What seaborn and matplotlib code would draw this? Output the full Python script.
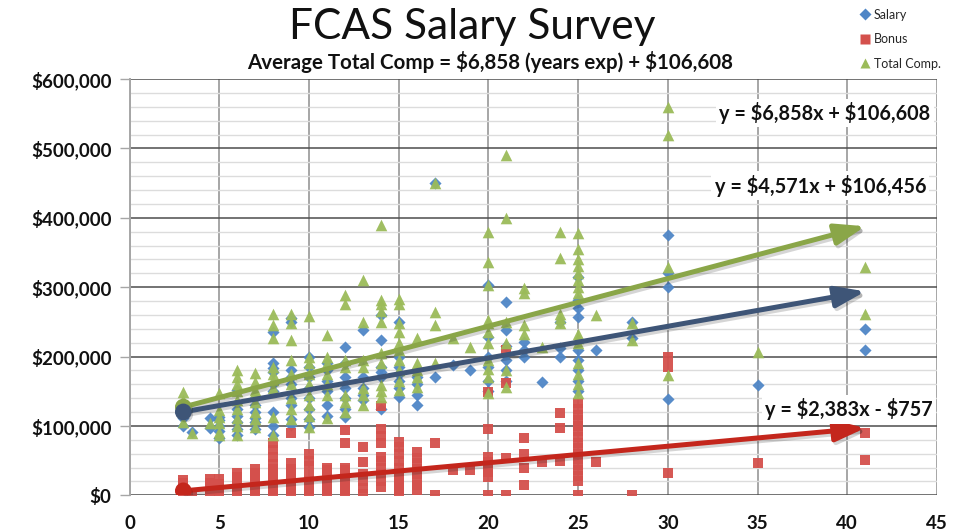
import numpy as np
import pandas as pd
import matplotlib
matplotlib.use("Agg")
import matplotlib.pyplot as plt
import matplotlib.patheffects as pe
from matplotlib.ticker import MultipleLocator, FuncFormatter
from matplotlib.lines import Line2D
import seaborn as sns

# ---------------- data (values in $ thousands) ----------------
salary_years = [3, 3.5, 4.5, 5, 6, 7, 8, 9, 10, 11, 12, 13, 14, 15, 16, 17, 18, 19,
                20, 21, 22, 23, 24, 25, 26, 28, 30, 35, 41]
salary_vals = [
    [100, 112, 120], [91], [111, 97], [83, 92, 100, 108, 113],
    [87, 95, 105, 115, 125, 152], [95, 105, 112, 120, 130, 140],
    [87, 100, 120, 150, 160, 178, 184, 190, 236],
    [101, 110, 130, 140, 160, 170, 180, 250, 256],
    [98, 110, 125, 140, 155, 170, 185, 200],
    [115, 130, 150, 165, 180, 190],
    [113, 125, 140, 155, 170, 190, 214],
    [137, 145, 155, 170, 238],
    [125, 170, 178, 185, 224, 260],
    [142, 155, 165, 175, 185, 200, 250],
    [130, 145, 160, 170], [170, 450], [188], [181],
    [150, 165, 185, 200, 228, 303],
    [165, 180, 195, 215, 238, 279],
    [200, 210, 221], [163], [200, 212, 250],
    [150, 165, 181, 195, 209, 257, 270, 281, 315],
    [209], [250, 227], [139, 300, 320, 375], [159], [209, 240],
]

bonus_years = [3, 3.5, 4.5, 5, 6, 7, 8, 9, 10, 11, 12, 13, 14, 15, 16, 17, 18, 19,
               20, 21, 22, 23, 24, 25, 26, 28, 30, 35, 41]
bonus_vals = [
    [3, 8, 13, 18, 22], [2], [3, 8, 13, 18, 23], [2, 7, 12, 17, 23],
    [2, 8, 14, 20, 26, 32], [2, 8, 14, 20, 26, 32, 38],
    [2, 8, 14, 20, 26, 32, 38, 45, 55, 65, 75],
    [2, 8, 14, 20, 26, 32, 38, 46, 90],
    [2, 8, 14, 20, 28, 42, 50, 60],
    [2, 8, 14, 20, 28, 36, 40],
    [2, 8, 14, 20, 28, 36, 40, 75, 94],
    [2, 10, 20, 30, 48, 70],
    [12, 20, 30, 40, 50, 55, 75, 85, 95, 128],
    [2, 8, 14, 20, 26, 32, 40, 50, 60, 70, 77],
    [8, 15, 22, 30, 38, 46, 54, 62], [0, 75], [37], [36],
    [0, 26, 33, 40, 48, 55, 95, 149],
    [0, 54, 162, 209], [15, 39, 59, 82], [48], [50, 97, 119],
    [0, 20, 28, 36, 44, 52, 60, 68, 76, 84, 92, 100, 108, 116, 125, 133],
    [48], [0], [32, 185, 199], [46], [51, 90],
]

total_years = [3, 3.5, 4.5, 5, 6, 7, 8, 9, 10, 11, 12, 13, 14, 15, 16, 17, 18, 19,
               20, 21, 22, 23, 24, 25, 26, 28, 30, 35, 41]
total_vals = [
    [105, 128, 137, 149], [90], [104], [87, 91, 104, 113, 123, 147],
    [87, 100, 112, 125, 137, 150, 160, 170, 180],
    [98, 110, 120, 135, 147, 152, 164, 176],
    [87, 113, 155, 166, 175, 185, 226, 245, 262],
    [110, 125, 140, 160, 175, 195, 224, 248, 262],
    [98, 115, 130, 145, 160, 175, 190, 200, 258],
    [111, 145, 160, 175, 190, 200, 231],
    [120, 135, 145, 185, 195, 276, 288],
    [130, 145, 155, 185, 195, 250, 311],
    [141, 150, 159, 190, 205, 250, 265, 275, 281, 390],
    [152, 165, 180, 195, 210, 220, 235, 248, 276, 283],
    [156, 170, 180, 190, 227], [190, 245, 264, 450], [227], [214],
    [147, 170, 182, 195, 220, 235, 248, 252, 303, 336, 380],
    [156, 181, 219, 250, 400, 490],
    [233, 245, 291, 299], [214], [248, 255, 262, 342, 380],
    [147, 160, 175, 190, 219, 226, 233, 291, 300, 310, 320, 330, 340, 355, 378],
    [260], [224, 248], [173, 329, 520, 559], [206], [262, 329],
]

series_names = ["Salary", "Bonus", "Total Comp."]
trend_names = ["Total Comp.", "Salary", "Bonus"]
trend_slopes = [6858, 4571, 2383]
trend_intercepts = [106608, 106456, -757]
trend_labels = ["y = $6,858x + $106,608", "y = $4,571x + $106,456", "y = $2,383x - $757"]
trend_x_range = [3, 41]

x_ticks = [0, 5, 10, 15, 20, 25, 30, 35, 40, 45]
y_ticks = [0, 100000, 200000, 300000, 400000, 500000, 600000]

title = "FCAS Salary Survey"
subtitle = "Average Total Comp = $6,858 (years exp) + $106,608"


def expand(years, vals, name):
    xs, ys = [], []
    for yr, vs in zip(years, vals):
        for v in vs:
            xs.append(yr)
            ys.append(v * 1000)
    return pd.DataFrame({"years": xs, "comp": ys, "series": name})


df = pd.concat([
    expand(salary_years, salary_vals, "Salary"),
    expand(bonus_years, bonus_vals, "Bonus"),
    expand(total_years, total_vals, "Total Comp."),
], ignore_index=True)

# ---------------- styling ----------------
sns.set_theme(style="white")
plt.rcParams["font.family"] = ["Lato", "DejaVu Sans"]
plt.rcParams["text.parse_math"] = False

colors = {"Salary": "#4F86C6", "Bonus": "#D4504C", "Total Comp.": "#9BBB59"}
markers = {"Salary": "D", "Bonus": "s", "Total Comp.": "^"}
sizes = {"Salary": 38, "Bonus": 62, "Total Comp.": 70}
trend_colors = {"Total Comp.": "#8AA648", "Salary": "#3E5577", "Bonus": "#C4261C"}

fig = plt.figure(figsize=(9.75, 5.31), dpi=100)
ax = fig.add_axes([129.5 / 975, 35.7 / 531, (937 - 129.5) / 975, (495.3 - 79) / 531])

ax.set_xlim(0, 45)
ax.set_ylim(0, 600000)

# grid
ax.yaxis.set_minor_locator(MultipleLocator(20000))
ax.set_xticks(x_ticks)
ax.set_yticks(y_ticks)
ax.grid(which="minor", axis="y", color="#DCDCDC", lw=1.0, zorder=0)
ax.grid(which="major", axis="y", color="#4D4D4D", lw=1.1, zorder=0.5)
ax.grid(which="major", axis="x", color="#A6A6A6", lw=1.4, zorder=0.5)
ax.set_axisbelow(True)

for name in series_names:
    sub = df[df["series"] == name]
    sns.scatterplot(data=sub, x="years", y="comp", ax=ax, marker=markers[name],
                    color=colors[name], s=sizes[name], linewidth=0,
                    alpha=0.95, zorder=3, legend=False)

# trend arrows
shadow = [pe.SimpleLineShadow(offset=(1.5, -2), alpha=0.18, rho=0.5), pe.Normal()]
for name, m, b in zip(trend_names, trend_slopes, trend_intercepts):
    x0, x1 = trend_x_range
    y0, y1 = m * x0 + b, m * x1 + b
    c = trend_colors[name]
    ax.annotate("", xy=(x1, y1), xytext=(x0, y0), zorder=5,
                arrowprops=dict(arrowstyle="-|>,head_length=0.9,head_width=0.32",
                                color=c, lw=3.6, mutation_scale=20,
                                shrinkA=0, shrinkB=0, path_effects=shadow))
    ax.plot([x0], [y0], marker="o", ms=11, color=c, zorder=6,
            path_effects=[pe.SimplePatchShadow(offset=(1.5, -2), alpha=0.2), pe.Normal()])

# equation labels
label_pos = [(38.75, 551000), (38.5, 446000), (40.1, 124000)]
for txt, (lx, ly) in zip(trend_labels, label_pos):
    ax.text(lx, ly, txt, ha="center", va="center", fontsize=14.3, fontweight="bold",
            color="#111111", zorder=7,
            bbox=dict(facecolor="white", edgecolor="none", pad=2.5))

# axes / ticks
for s in ["top", "right", "bottom"]:
    ax.spines[s].set_visible(False)
ax.spines["left"].set_color("#A6A6A6")
ax.spines["left"].set_linewidth(1.4)
ax.tick_params(axis="y", which="major", direction="out", length=7, width=1,
               color="#A6A6A6", left=True, labelsize=13.5, pad=6)
ax.tick_params(axis="y", which="minor", left=False)
ax.tick_params(axis="x", which="both", bottom=False, labelsize=13.5, pad=8)
ax.yaxis.set_major_formatter(FuncFormatter(lambda v, p: "${:,.0f}".format(v)))
for lab in ax.get_xticklabels() + ax.get_yticklabels():
    lab.set_fontweight("bold")
    lab.set_color("#111111")
ax.set_xlabel("")
ax.set_ylabel("")

# titles
fig.text(0.484, 0.949, title, ha="center", va="center", fontsize=30.5, color="#111111")
fig.text(0.503, 0.884, subtitle, ha="center", va="center", fontsize=14.8,
         fontweight="bold", color="#111111")

# legend
handles = [Line2D([0], [0], marker=markers[n], color="none", markerfacecolor=colors[n],
                  markeredgecolor="none", markersize=7 if n != "Salary" else 6)
           for n in series_names]
fig.legend(handles, series_names, loc="upper left", bbox_to_anchor=(850 / 975, 1.0),
           frameon=False, fontsize=9, labelspacing=1.0, handletextpad=0.2,
           handlelength=1.0, borderaxespad=0.3)

fig.savefig("out.png", dpi=100, facecolor="white")
